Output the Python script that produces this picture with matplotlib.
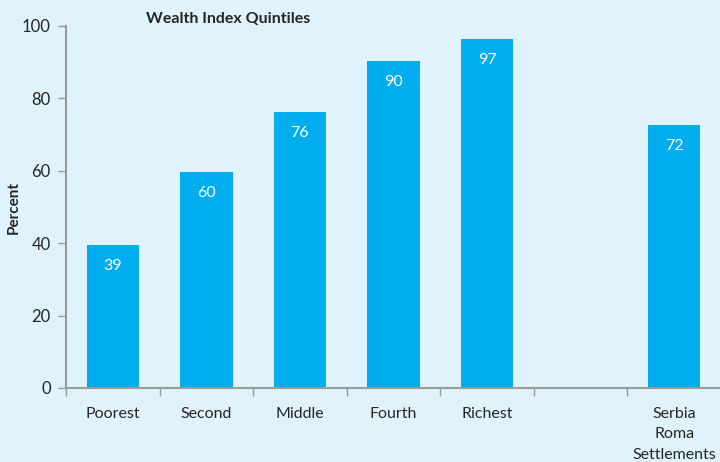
import numpy as np
import matplotlib.pyplot as plt

categories = ["Poorest", "Second", "Middle", "Fourth", "Richest", "", "Serbia\nRoma\nSettlements"]
values = [39.5, 59.7, 76.2, 90.3, 96.4, np.nan, 72.6]
labels = ["39", "60", "76", "90", "97", "", "72"]

bg = "#E0F2FC"
bar_color = "#00AEEF"
axis_color = "#9A9A9A"
text_color = "#262626"

plt.rcParams['font.family'] = ['Lato', 'DejaVu Sans']

fig = plt.figure(figsize=(7.2, 4.62), dpi=100, facecolor=bg)
ax = fig.add_axes([66/720, 74/462, 655/720, 362/462], facecolor=bg)

x = np.arange(len(categories))
ax.bar(x, values, width=0.56, color=bar_color, zorder=2)

for xi, v, lab in zip(x, values, labels):
    if lab:
        ax.text(xi, v - 5.7, lab, ha='center', va='center', color='white', fontsize=11.5)

ax.set_xlim(-0.5, len(categories) - 0.5)
ax.set_ylim(0, 100)
ax.set_yticks(range(0, 101, 20))
ax.set_xticks(x)
ax.set_xticklabels(categories, fontsize=11.5, color=text_color, linespacing=1.55)
ax.set_xticks(np.arange(-0.5, len(categories), 1.0), minor=True)
ax.tick_params(axis='x', which='major', length=0, pad=14)
ax.tick_params(axis='x', which='minor', length=6, width=1, color=axis_color, direction='out')
ax.tick_params(axis='y', length=6, width=1, color=axis_color, labelsize=12, labelcolor=text_color, pad=5)

for side in ['top', 'right']:
    ax.spines[side].set_visible(False)
for side in ['left', 'bottom']:
    ax.spines[side].set_color(axis_color)
    ax.spines[side].set_linewidth(1.5)

ax.set_ylabel("Percent", fontsize=11, fontweight='bold', color=text_color)
ax.yaxis.set_label_coords(-45/655, 0.5)
fig.text(228/720, 1 - 19/462, "Wealth Index Quintiles", ha='center', va='center',
         fontsize=11.5, fontweight='bold', color=text_color)

fig.savefig("out.png", dpi=100, facecolor=bg)
